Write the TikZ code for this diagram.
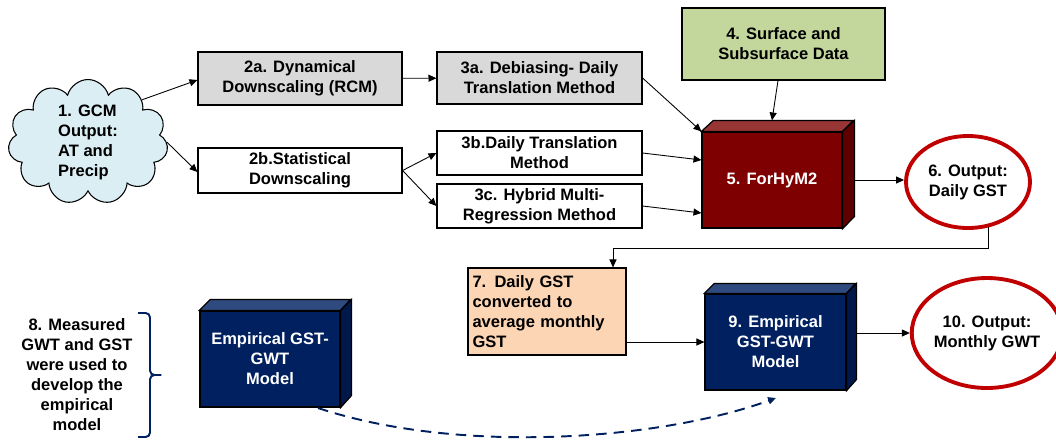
\documentclass[tikz,border=0pt]{standalone}
\usepackage{fontspec}
\setmainfont{Liberation Sans}
\usetikzlibrary{positioning,shapes.geometric,shapes.symbols,arrows.meta}

\definecolor{cloudblue}{HTML}{DBEEF4}
\definecolor{boxgray}{HTML}{D9D9D9}
\definecolor{datagreen}{HTML}{C3D69B}
\definecolor{forhymred}{HTML}{7F0000}
\definecolor{forhymtop}{HTML}{973634}
\definecolor{forhymside}{HTML}{5E0000}
\definecolor{modelblue}{HTML}{002060}
\definecolor{modeltop}{HTML}{2F4A7E}
\definecolor{modelside}{HTML}{00184A}
\definecolor{outred}{HTML}{C00000}
\definecolor{gstpeach}{HTML}{FCD5B5}

\begin{document}
\begin{tikzpicture}[x=0.02cm,y=-0.02cm,>={Triangle[length=4.5pt,width=4pt]},
    every node/.style={font=\fontsize{9.4}{11.4}\selectfont\bfseries,inner sep=0pt},
    stage/.style={draw,line width=0.7pt,align=center},
    model/.style={draw,line width=0.7pt,align=center,text=white,minimum width=2.8cm,minimum height=1.92cm},
    output/.style={ellipse,draw=outred,line width=2.2pt,align=center},
    link/.style={->,line width=0.5pt}]
      % \draw[help lines] (0,0) grid (1056,441);
    \useasboundingbox (0,0) rectangle (1056,441);

    \node[cloud, cloud puffs=11, cloud ignores aspect, draw, fill=cloudblue, line width=0.6pt,
          minimum width=3.2cm, minimum height=2.5cm, align=left]          (gcm) at (88,142) {1. GCM\\Output:\\AT and\\Precip};
    \node[stage, fill=boxgray, minimum width=4.08cm, minimum height=1.06cm] (dyn2a) at (300,78.5) {2a. Dynamical\\Downscaling (RCM)};
    \node[stage, minimum width=4.08cm, minimum height=0.9cm]                (stat2b) at (300,170.5) {2b.Statistical\\Downscaling};
    \node[stage, fill=boxgray, minimum width=4.1cm, minimum height=1.04cm]  (deb3a) at (539.5,78) {3a. Debiasing- Daily\\Translation Method};
    \node[stage, minimum width=4.1cm, minimum height=0.88cm]                (daily3b) at (539.5,153) {3b.Daily Translation\\Method};
    \node[stage, minimum width=4.1cm, minimum height=0.88cm]                (hyb3c) at (539.5,206) {3c. Hybrid Multi-\\Regression Method};
    \node[stage, fill=datagreen, minimum width=4.06cm, minimum height=1.44cm] (data4) at (783.5,44) {4. Surface and\\Subsurface Data};

    \node[model, fill=forhymred]                                            (forhym) at (772,180) {5. ForHyM2};
    \filldraw[fill=forhymtop, line width=0.7pt] (forhym.north west) -- ++(12,-11) -- ++(140,0) -- (forhym.north east) -- cycle;
    \filldraw[fill=forhymside, line width=0.7pt] (forhym.north east) -- ++(12,-11) -- ++(0,96) -- (forhym.south east) -- cycle;

    \node[output, minimum width=2.48cm, minimum height=1.84cm]              (out6) at (968,182) {6. Output:\\Daily GST};
    \node[stage, fill=gstpeach, minimum width=3.16cm, minimum height=1.74cm,
          align=left, text width=2.98cm]                                   (gst7) at (547,311.5) {7. Daily GST\\converted to\\average monthly\\GST};

    \node[model, fill=modelblue, minimum width=2.82cm]                      (emp9) at (775.5,342) {9. Empirical\\GST-GWT\\Model};
    \filldraw[fill=modeltop, line width=0.7pt] (emp9.north west) -- ++(10,-10) -- ++(141,0) -- (emp9.north east) -- cycle;
    \filldraw[fill=modelside, line width=0.7pt] (emp9.north east) -- ++(10,-10) -- ++(0,96) -- (emp9.south east) -- cycle;

    \node[output, minimum width=2.68cm, minimum height=2.2cm]               (out10) at (987,333) {10. Output:\\Monthly GWT};

    \node[model, fill=modelblue]                                            (emp) at (270,359) {Empirical GST-\\GWT\\Model};
    \filldraw[fill=modeltop, line width=0.7pt] (emp.north west) -- ++(11,-11) -- ++(140,0) -- (emp.north east) -- cycle;
    \filldraw[fill=modelside, line width=0.7pt] (emp.north east) -- ++(11,-11) -- ++(0,96) -- (emp.south east) -- cycle;

    \node[align=center]                                                     (meas8) at (77,375) {8. Measured\\GWT and GST\\were used to\\develop the\\empirical\\model};
    \coordinate (bracetop) at (138,313);
    \coordinate (bracetip) at (164,375);
    \coordinate (bracebot) at (138,437);
    \coordinate (turn) at (613,248);
    \coordinate (dashstart) at (318,408);
    \coordinate (dashend) at (776,398);

    \draw[draw=modelblue, line width=1.1pt, rounded corners=2.5pt] (bracetop) -- ++(12,0) -- ++(0,62) -- (bracetip) -- ++(-14,0) -- ++(0,62) -- (bracebot);

    \path[link] (gcm.north east) edge                  ([yshift=-0.03cm]dyn2a.west)
                (gcm.east)      edge                  ([yshift=-0.03cm]stat2b.west)
                (dyn2a)         edge                  (deb3a)
                (stat2b.east)   edge                  (daily3b.west)
                (stat2b.east)   edge                  (hyb3c.west)
                (deb3a.east)    edge                  (forhym.north west)
                (daily3b.east)  edge                  ([yshift=-0.14cm]daily3b.east -| forhym.west)
                (hyb3c.east)    edge                  ([yshift=-0.14cm]hyb3c.east -| forhym.west)
                (data4)         edge                  ([yshift=0.22cm]forhym.north)
                ([xshift=0.24cm]forhym.east) edge     (forhym.east -| out6.west)
                (gst7.east |- emp9.west) edge        (emp9.west)
                ([xshift=0.2cm]emp9.east |- out10.west) edge (out10.west)
                ;
    \draw[link] (out6.-66) |- (turn) -- (turn |- gst7.north);
    \draw[->, draw=modelblue, line width=1.1pt, dash pattern=on 6pt off 4pt] (dashstart) .. controls (460,455) and (660,440) .. (dashend);
\end{tikzpicture}
\end{document}
